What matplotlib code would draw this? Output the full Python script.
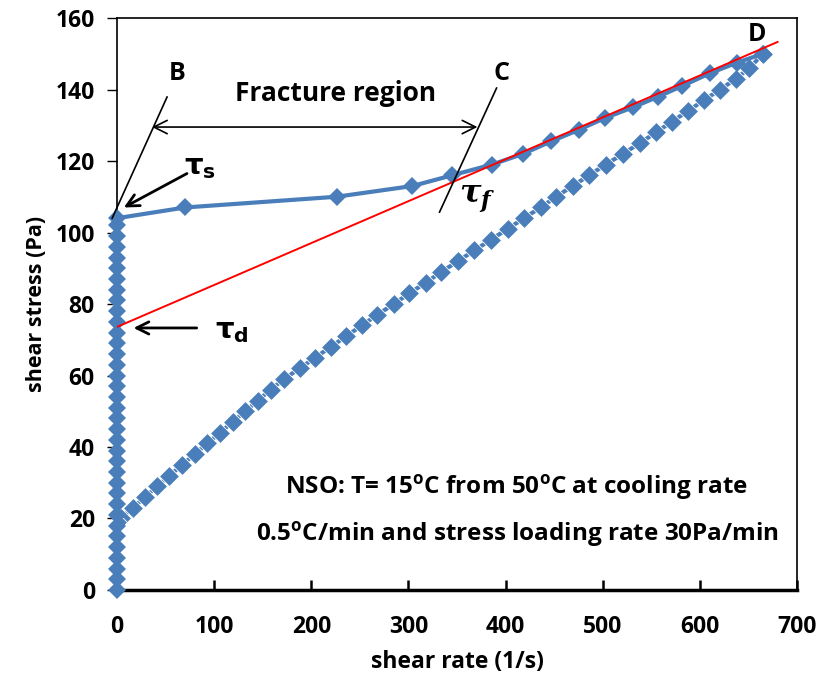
import matplotlib
matplotlib.use("Agg")
from matplotlib import pyplot as plt

plt.rcParams['font.family'] = ['Open Sans', 'DejaVu Sans']
plt.rcParams['font.weight'] = 'bold'
plt.rcParams['mathtext.fontset'] = 'custom'
plt.rcParams['mathtext.rm'] = 'Open Sans:bold'
plt.rcParams['mathtext.bf'] = 'DejaVu Sans:bold'
plt.rcParams['mathtext.it'] = 'DejaVu Serif:italic:bold'

BLUE = "#4A7EBB"

# loading: stress ramps at ~zero rate, then flow up to D
rise_rate = [0, 0, 0, 0, 0, 0, 0, 0, 0, 0, 0, 0, 0, 0, 0, 0, 0, 0,
             0, 0, 0, 0, 0, 0, 0, 0, 0, 0, 0, 0, 0, 0, 0, 0, 0]
rise_stress = [0, 3, 6, 9, 12, 15, 18, 21, 24, 27, 30, 33, 36, 39, 42, 45, 48, 51,
               54, 57, 60, 63, 66, 69, 72, 75, 78, 81, 84, 87, 90, 93, 96, 99, 102]
flow_rate = [0, 70, 226, 304, 345, 386, 418, 447, 476, 502, 531, 557, 582, 610, 638, 665]
flow_stress = [104, 107, 110, 113, 116, 119, 122, 125.5, 128.8, 132, 135, 138, 141,
               144.5, 147.5, 150]

# unloading branch back from D
down_rate = [665, 651, 637, 621, 604, 588, 571, 555, 538, 521, 503, 486, 469, 452, 436,
             419, 402, 385, 368, 351, 334, 318, 301, 285, 268, 252, 236, 220, 204, 188,
             172, 158, 145, 132, 119, 106, 93, 80, 67, 54, 41, 29, 16, 4, 0]
down_stress = [150, 146, 143, 140, 137, 134, 131, 128, 125, 122, 119, 116, 113, 110, 107,
               104, 101, 98, 95, 92, 89, 86, 83, 80, 77, 74, 71, 68, 65, 62,
               59, 56, 53, 50, 47, 44, 41, 38, 35, 32, 29, 26, 23, 20, 19]

# tangent to the flow branch (tau_d intercept)
fit_rate = [0, 680]
fit_stress = [73.6, 153.3]

fig = plt.figure(figsize=(8.23, 6.82), dpi=100)
ax = fig.add_axes([0.1422, 0.1349, 0.8262, 0.8387])

ax.plot(down_rate, down_stress, color=BLUE, lw=3, marker='D', ms=10,
        mec='white', mew=0.6, zorder=3)
ax.plot(rise_rate + flow_rate, rise_stress + flow_stress, color=BLUE, lw=3,
        marker='D', ms=9.5, mew=0, zorder=4, clip_on=False)
ax.plot(fit_rate, fit_stress, color='red', lw=1.4, zorder=5)

ax.set_xlim(0, 700)
ax.set_ylim(0, 160)
ax.set_xticks(range(0, 701, 100))
ax.set_yticks(range(0, 161, 20))
ax.tick_params(axis='x', direction='in', length=7, width=1.8, labelsize=16.5, pad=18)
ax.tick_params(axis='y', direction='out', length=7, width=1, labelsize=16.5, pad=9)
for side in ['top', 'right', 'left']:
    ax.spines[side].set_linewidth(1.2)
ax.spines['bottom'].set_linewidth(2.5)
ax.set_xlabel("shear rate (1/s)", fontsize=16.5, fontweight='bold', labelpad=8)
ax.set_ylabel("shear stress (Pa)", fontsize=15.5, fontweight='bold', labelpad=6)

# B and C construction lines
ax.plot([-5, 51.5], [104, 137.9], color='black', lw=1.2, clip_on=False, zorder=6)
ax.plot([332, 390.7], [105.7, 140.4], color='black', lw=1.2, zorder=6)
ax.annotate("", xy=(36, 129.5), xytext=(371, 129.5),
            arrowprops=dict(arrowstyle='<->', color='black', lw=1.2,
                            mutation_scale=24, shrinkA=0, shrinkB=0))
ax.text(225, 139, "Fracture region", fontsize=19, fontweight='bold', ha='center', va='center')
ax.text(62, 144.5, "B", fontsize=18, fontweight='bold', ha='center', va='center')
ax.text(396, 144.5, "C", fontsize=18, fontweight='bold', ha='center', va='center')
ax.text(659, 155.5, "D", fontsize=18, fontweight='bold', ha='center', va='center')

ax.annotate("", xy=(7, 107), xytext=(72, 116.5),
            arrowprops=dict(arrowstyle='->', color='black', lw=2,
                            mutation_scale=22, shrinkA=0, shrinkB=0))
ax.text(69, 118.5, r"$\mathbf{\tau}_\mathbf{s}$", fontsize=21, ha='left', va='center')
ax.annotate("", xy=(17, 73.3), xytext=(82, 73.3),
            arrowprops=dict(arrowstyle='->', color='black', lw=2,
                            mutation_scale=22, shrinkA=0, shrinkB=0))
ax.text(101, 72.5, r"$\mathbf{\tau}_\mathbf{d}$", fontsize=21, ha='left', va='center')
ax.text(352, 109.5, r"$\mathit{\tau_f}$", fontsize=23, ha='left', va='center')

ax.text(411, 28.5, r"NSO: T= 15$^{\mathrm{o}}$C from 50$^{\mathrm{o}}$C at cooling rate",
        fontsize=17.5, fontweight='bold', ha='center', va='center')
ax.text(412, 15.5, r"0.5$^{\mathrm{o}}$C/min and stress loading rate 30Pa/min",
        fontsize=17.5, fontweight='bold', ha='center', va='center')

plt.savefig("out.png", dpi=100)
